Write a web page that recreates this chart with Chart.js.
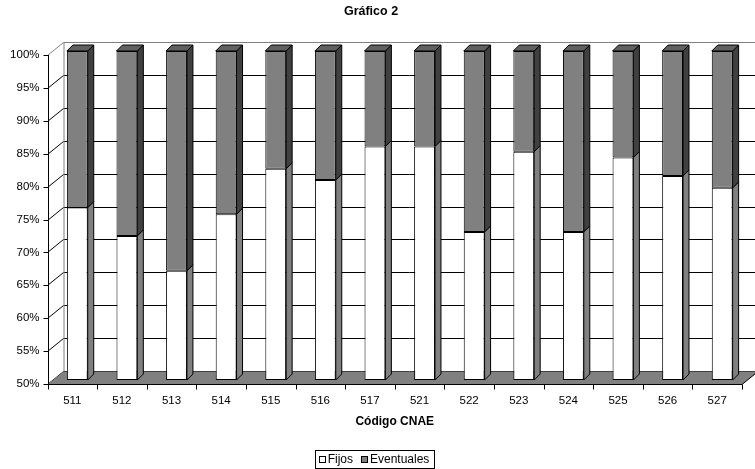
<!DOCTYPE html>
<html>
<head>
<meta charset="utf-8">
<title>Gráfico 2</title>
<script src="https://cdn.jsdelivr.net/npm/chart.js@4"></script>
<style>
  html, body { margin: 0; padding: 0; background: #fff; }
  canvas { display: block; }
</style>
</head>
<body>
<canvas id="chart" width="755" height="469"></canvas>
<script>
// Data
const categories = ["511", "512", "513", "514", "515", "516", "517", "521", "522", "523", "524", "525", "526", "527"]
const fijos = [76.2, 71.9, 66.6, 75.2, 82.1, 80.4, 85.5, 85.5, 72.5, 84.7, 72.5, 83.8, 81.0, 79.2]
const eventuales = [23.8, 28.1, 33.4, 24.8, 17.9, 19.6, 14.5, 14.5, 27.5, 15.3, 27.5, 16.2, 19.0, 20.8]
const yMin = 50
const yMax = 100
const yStep = 5

const FONT = "'Liberation Sans', Arial, sans-serif"

// depth of the walls and of the bars (pseudo 3D)
const wall = { dx: 16, dy: -13 }
const barShift = { dx: 5, dy: -4 }
const barDepth = 6

// walls, floor and axes behind the bars
const walls3d = {
  id: "walls3d",
  beforeDatasetsDraw(chart) {
    const { ctx, chartArea: a, scales } = chart
    const y = scales.y
    ctx.save()
    ctx.lineWidth = 1

    // back wall and side wall gridlines
    for (let v = yMin; v <= yMax; v += yStep) {
      const py = Math.round(y.getPixelForValue(v)) + 0.5
      ctx.strokeStyle = v === yMax ? "#808080" : "#000"
      ctx.beginPath()
      ctx.moveTo(a.left + wall.dx, py + wall.dy)
      ctx.lineTo(chart.width, py + wall.dy)
      ctx.stroke()
      ctx.beginPath()
      ctx.moveTo(a.left, py)
      ctx.lineTo(a.left + wall.dx, py + wall.dy)
      ctx.stroke()
    }
    ctx.strokeStyle = "#808080"
    ctx.beginPath()
    ctx.moveTo(a.left + wall.dx + 0.5, a.top + wall.dy)
    ctx.lineTo(a.left + wall.dx + 0.5, a.bottom + wall.dy)
    ctx.stroke()

    // floor
    const fy = Math.round(a.bottom) + 0.5
    ctx.fillStyle = "#808080"
    ctx.beginPath()
    ctx.moveTo(a.left, fy)
    ctx.lineTo(a.right, fy)
    ctx.lineTo(a.right + wall.dx, fy + wall.dy)
    ctx.lineTo(a.left + wall.dx, fy + wall.dy)
    ctx.closePath()
    ctx.fill()
    ctx.strokeStyle = "#000"
    ctx.beginPath()
    ctx.moveTo(a.right, fy)
    ctx.lineTo(a.right + wall.dx, fy + wall.dy)
    ctx.stroke()

    // front axes and tick marks
    const lx = Math.round(a.left) + 0.5
    ctx.beginPath()
    ctx.moveTo(lx, a.top)
    ctx.lineTo(lx, fy)
    ctx.lineTo(a.right, fy)
    for (let v = yMin; v <= yMax; v += yStep) {
      const py = Math.round(y.getPixelForValue(v)) + 0.5
      ctx.moveTo(lx - 5, py)
      ctx.lineTo(lx, py)
    }
    const step = (a.right - a.left) / categories.length
    for (let i = 0; i <= categories.length; i++) {
      const px = Math.round(a.left + i * step) + 0.5
      ctx.moveTo(px, fy)
      ctx.lineTo(px, fy + 5)
    }
    ctx.stroke()
    ctx.restore()

    // bars sit a little behind the front plane
    ctx.save()
    ctx.translate(barShift.dx, barShift.dy)
  },
  afterDatasetsDraw(chart) {
    const { ctx } = chart
    const low = chart.getDatasetMeta(0).data
    const high = chart.getDatasetMeta(1).data
    const d = barDepth
    ctx.lineWidth = 1
    ctx.strokeStyle = "#000"

    const face = (pts, fill) => {
      ctx.fillStyle = fill
      ctx.beginPath()
      pts.forEach((p, i) => (i ? ctx.lineTo(p[0], p[1]) : ctx.moveTo(p[0], p[1])))
      ctx.closePath()
      ctx.fill()
      ctx.stroke()
    }

    low.forEach((bar, i) => {
      const top = high[i]
      const l = bar.x - bar.width / 2
      const r = bar.x + bar.width / 2
      // side of the white part
      face([[r, bar.y], [r + d, bar.y - d], [r + d, bar.base - d], [r, bar.base]], "#808080")
      // side of the gray part
      face([[r, top.y], [r + d, top.y - d], [r + d, top.base - d], [r, top.base]], "#404040")
      // top
      face([[l, top.y], [r, top.y], [r + d, top.y - d], [l + d, top.y - d]], "#606060")
    })
    ctx.restore()
  },
}

// legend in a framed box under the axis title
const boxLegend = {
  id: "boxLegend",
  afterDraw(chart) {
    const { ctx } = chart
    const sets = chart.data.datasets
    const box = 6
    const gap = 3
    const spacing = 8
    const pad = 4
    const cy = 459.5
    ctx.save()
    ctx.font = "12px " + FONT
    ctx.textBaseline = "middle"
    const widths = sets.map((s) => box + gap + ctx.measureText(s.label).width)
    const total = widths.reduce((a, b) => a + b, 0) + spacing * (sets.length - 1)
    let x = 374 - total / 2
    ctx.strokeStyle = "#000"
    ctx.lineWidth = 1
    ctx.strokeRect(Math.round(x - pad) + 0.5, 450.5, Math.round(total + pad * 2), 18)
    sets.forEach((s, i) => {
      ctx.fillStyle = s.backgroundColor
      ctx.fillRect(Math.round(x) + 0.5, cy - box / 2, box, box)
      ctx.strokeRect(Math.round(x) + 0.5, cy - box / 2, box, box)
      ctx.fillStyle = "#000"
      ctx.fillText(s.label, x + box + gap, cy + 0.5)
      x += widths[i] + spacing
    })
    ctx.restore()
  },
}

new Chart(document.getElementById("chart"), {
  type: "bar",
  data: {
    labels: categories,
    datasets: [
      {
        label: "Fijos",
        data: fijos.map((v) => [yMin, v]),
        backgroundColor: "#ffffff",
        borderColor: "#000000",
        borderWidth: 1,
        borderSkipped: false,
        clip: false,
      },
      {
        label: "Eventuales",
        data: fijos.map((v, i) => [v, v + eventuales[i]]),
        backgroundColor: "#808080",
        borderColor: "#000000",
        borderWidth: 1,
        borderSkipped: false,
        clip: false,
      },
    ],
  },
  options: {
    responsive: false,
    animation: false,
    devicePixelRatio: 1,
    layout: { padding: { left: 0, right: 13, top: 0, bottom: 30 } },
    datasets: { bar: { barPercentage: 0.42, categoryPercentage: 1 } },
    plugins: {
      legend: { display: false },
      tooltip: { enabled: false },
      title: {
        display: true,
        text: "Gráfico 2",
        color: "#000",
        font: { family: FONT, size: 12.5, weight: "bold", lineHeight: 1.2 },
        padding: { top: 4, bottom: 36 },
      },
    },
    scales: {
      x: {
        stacked: true,
        grid: { display: false, drawTicks: false },
        border: { display: false },
        ticks: { color: "#000", font: { family: FONT, size: 11.5 }, padding: 10, maxRotation: 0 },
        title: {
          display: true,
          text: "Código CNAE",
          color: "#000",
          font: { family: FONT, size: 12, weight: "bold", lineHeight: 1.2 },
          padding: { top: 0, bottom: 10 },
        },
        afterFit(s) {
          s.height = 55
        },
      },
      y: {
        min: yMin,
        max: yMax,
        grid: { display: false, drawTicks: false },
        border: { display: false },
        ticks: {
          stepSize: yStep,
          color: "#000",
          font: { family: FONT, size: 11.5 },
          padding: 8,
          callback: (v) => v + "%",
        },
        afterFit(s) {
          s.width = 47.5
        },
      },
    },
  },
  plugins: [walls3d, boxLegend],
})
</script>
</body>
</html>
